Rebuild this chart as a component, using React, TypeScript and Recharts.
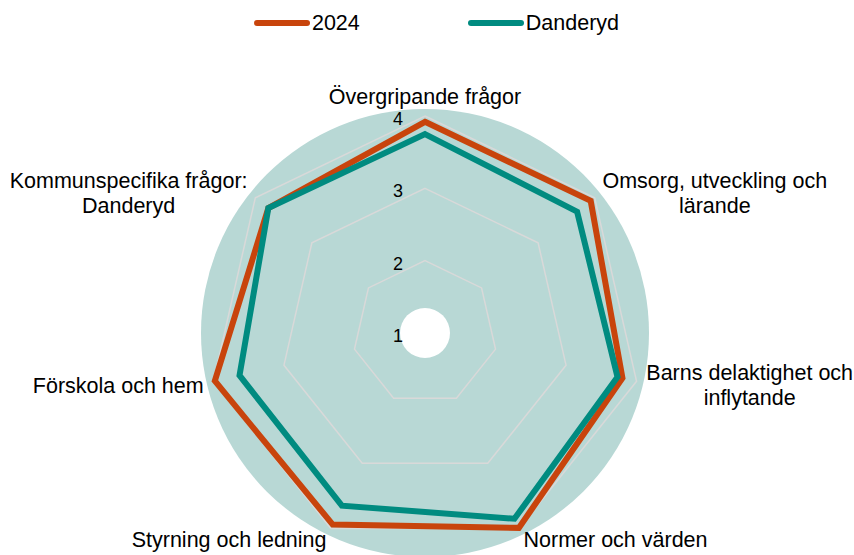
import React from "react";
import { RadarChart, Radar, PolarGrid, PolarAngleAxis, PolarRadiusAxis, Legend } from "recharts";

const categories = [
  "Övergripande frågor",
  "Omsorg, utveckling och\nlärande",
  "Barns delaktighet och\ninflytande",
  "Normer och värden",
  "Styrning och ledning",
  "Förskola och hem",
  "Kommunspecifika frågor:\nDanderyd",
];
const values2024 = [3.92, 3.93, 3.8, 3.99, 3.94, 3.98, 3.77];
const valuesDanderyd = [3.75, 3.69, 3.73, 3.85, 3.65, 3.63, 3.77];
const radiusTicks = [1, 2, 3, 4];
const seriesNames = ["2024", "Danderyd"];

const data = categories.map((c, i) => ({
  subject: c,
  s2024: values2024[i],
  danderyd: valuesDanderyd[i],
}));

const W = 854;
const H = 555;
const CX = 425;
const CY = 333;
const OUTER_R = 217;
const DISC_R = 224;
const HOLE_R = 25;
const LABEL_GAP = 10;
const FONT = '"Liberation Sans", Arial, Helvetica, sans-serif';
const FS = 21.5;
const LINE_H = 25;
const ORANGE = "#C8440C";
const TEAL = "#008B80";
const DISC = "#B8D8D5";
const GRID = "#D9D9D9";

let ctx: CanvasRenderingContext2D | null = null;
function measure(s: string): number {
  if (!ctx) {
    const c = document.createElement("canvas");
    ctx = c.getContext("2d");
  }
  if (!ctx) return s.length * FS * 0.5;
  ctx.font = `${FS}px "Liberation Sans"`;
  return ctx.measureText(s).width;
}

const AngleTick = (props: any) => {
  const { x, y, payload } = props;
  const dx = x - CX;
  const dy = y - CY;
  const len = Math.hypot(dx, dy) || 1;
  const ux = dx / len;
  const uy = dy / len;
  const px = CX + ux * (OUTER_R + LABEL_GAP);
  const py = CY + uy * (OUTER_R + LABEL_GAP);
  const lines = String(payload.value).split("\n");
  const w = Math.max(...lines.map(measure));
  const blockH = lines.length * LINE_H;
  let centerX: number;
  let centerY: number;
  if (Math.abs(ux) < 0.1) {
    centerX = px;
    centerY = uy < 0 ? py - blockH / 2 + 3 : py + blockH / 2;
  } else {
    centerX = ux > 0 ? px + w / 2 : px - w / 2;
    centerY = py + 2;
  }
  return (
    <text textAnchor="middle" fontFamily={FONT} fontSize={FS} fill="#000">
      {lines.map((l, i) => (
        <tspan
          key={i}
          x={centerX}
          y={centerY + (i - (lines.length - 1) / 2) * LINE_H}
          dominantBaseline="central"
        >
          {l}
        </tspan>
      ))}
    </text>
  );
};

const RadiusTick = (props: any) => {
  const { x, y, payload } = props;
  return (
    <text
      x={x - 27}
      y={y + 3}
      textAnchor="middle"
      dominantBaseline="central"
      fontFamily={FONT}
      fontSize={18}
      fill="#000"
    >
      {payload.value}
    </text>
  );
};

const renderLegend = () => {
  const colors = [ORANGE, TEAL];
  return (
    <div
      style={{
        display: "flex",
        justifyContent: "center",
        alignItems: "center",
        paddingLeft: 18,
        fontFamily: FONT,
        fontSize: FS,
        color: "#000",
      }}
    >
      {seriesNames.map((n, i) => (
        <div
          key={n}
          style={{ display: "flex", alignItems: "center", marginLeft: i === 0 ? 0 : 107 }}
        >
          <svg width={58} height={10} style={{ display: "block" }}>
            <line x1={4} y1={5} x2={54} y2={5} stroke={colors[i]} strokeWidth={6} strokeLinecap="round" />
          </svg>
          <span style={{ marginLeft: 1, lineHeight: "24px" }}>{n}</span>
        </div>
      ))}
    </div>
  );
};

export default function App() {
  return (
    <div style={{ position: "absolute", left: 0, top: 0, width: W, height: H, background: "#fff" }}>
      <svg width={W} height={H} style={{ position: "absolute", left: 0, top: 0 }}>
        <circle cx={CX} cy={CY} r={DISC_R} fill={DISC} />
      </svg>
      <div style={{ position: "absolute", left: 0, top: 0 }}>
        <RadarChart
          width={W}
          height={H}
          data={data}
          cx={CX}
          cy={CY}
          outerRadius={OUTER_R}
          margin={{ top: 0, right: 0, bottom: 0, left: 0 }}
        >
          <PolarGrid gridType="polygon" radialLines={false} stroke={GRID} strokeWidth={1.5} />
          <circle cx={CX} cy={CY} r={HOLE_R} fill="#fff" />
          <PolarAngleAxis dataKey="subject" tick={<AngleTick />} axisLine={false} tickLine={false} />
          <Radar
            name={seriesNames[0]}
            dataKey="s2024"
            stroke={ORANGE}
            strokeWidth={6}
            fill="none"
            fillOpacity={0}
            dot={false}
            isAnimationActive={false}
          />
          <Radar
            name={seriesNames[1]}
            dataKey="danderyd"
            stroke={TEAL}
            strokeWidth={6}
            fill="none"
            fillOpacity={0}
            dot={false}
            isAnimationActive={false}
          />
          <PolarRadiusAxis
            angle={90}
            domain={[1, 4]}
            ticks={radiusTicks as any}
            tickCount={4}
            axisLine={false}
            tickLine={false}
            tick={<RadiusTick />}
          />
          <Legend
            verticalAlign="top"
            content={renderLegend}
            wrapperStyle={{ top: 11, left: 0, width: W }}
          />
        </RadarChart>
      </div>
    </div>
  );
}
